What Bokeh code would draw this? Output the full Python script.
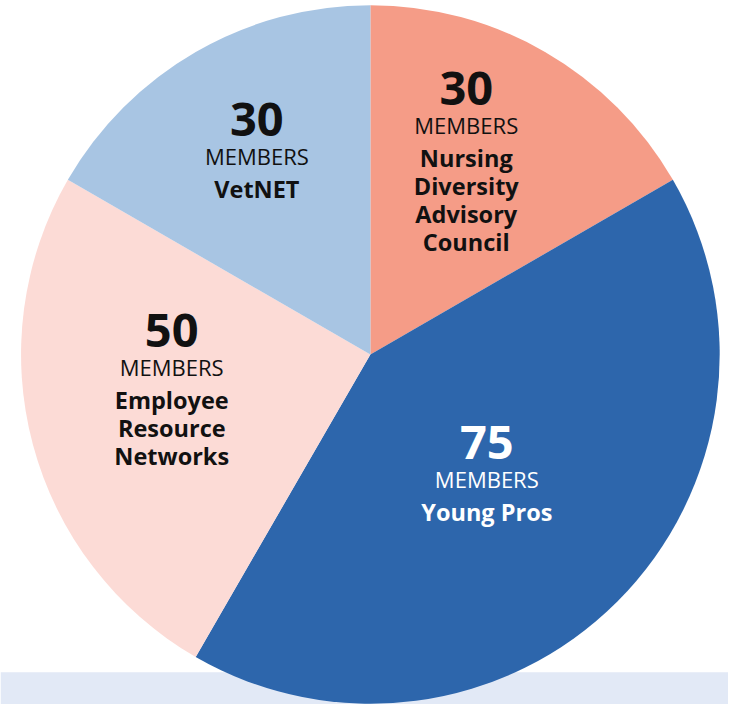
from bokeh.plotting import figure
from bokeh.models import Range1d, BoxAnnotation, ColumnDataSource
from bokeh.core.properties import value
from bokeh.embed import file_html
from bokeh.resources import INLINE
import numpy as np

# ---- data ----
categories = ["Nursing Diversity Advisory Council", "Young Pros",
              "Employee Resource Networks", "VetNET"]
members = [30, 75, 50, 30]
# slice sizes as drawn in the reference (degrees)
slice_deg = [60, 150, 90, 60]
name_lines = [["Nursing", "Diversity", "Advisory", "Council"],
              ["Young Pros"],
              ["Employee", "Resource", "Networks"],
              ["VetNET"]]
colors = ["#f59c87", "#2d66ac", "#fcdbd6", "#a8c5e3"]
text_colors = ["#111111", "#ffffff", "#111111", "#111111"]

# ---- layout (reference pixel units, y measured downward from the top) ----
REF_W, REF_H = 744, 720
W, H = 728, 704
S = W / REF_W
CX, CY, R = 378, 362, 357
label_off = [(98, -272), (119, 90), (-203, -24), (-116, -240)]
FONT = "Open Sans"


def ydata(py):
    return REF_H - py


def fs(px):
    return f"{px * S:.1f}px"


p = figure(width=W, height=H, x_range=Range1d(0, REF_W), y_range=Range1d(0, REF_H),
           output_backend="svg", toolbar_location=None, min_border=0,
           outline_line_color=None, background_fill_color="white")
p.axis.visible = False
p.grid.visible = False

band = BoxAnnotation(top=ydata(687), fill_color="#e2e9f6", fill_alpha=1.0,
                     line_color=None, level="underlay")
p.add_layout(band)

cum = np.cumsum([0] + slice_deg)
end_angles = [float(np.radians(90 - c)) for c in cum[:-1]]
start_angles = [float(np.radians(90 - c)) for c in cum[1:]]
src = ColumnDataSource(dict(cat=categories, start=start_angles, end=end_angles, color=colors))
p.wedge(x=CX, y=ydata(CY), radius=R, start_angle="start", end_angle="end",
        direction="anticlock", fill_color="color",
        line_color=None, source=src)

num = dict(x=[], y=[], t=[], c=[])
mem = dict(x=[], y=[], t=[], c=[])
nam = dict(x=[], y=[], t=[], c=[])
for i, cat in enumerate(categories):
    lx = CX + label_off[i][0]
    ly = CY + label_off[i][1]
    num["x"].append(lx); num["y"].append(ydata(ly))
    num["t"].append(str(members[i])); num["c"].append(text_colors[i])
    mem["x"].append(lx); mem["y"].append(ydata(ly + 37))
    mem["t"].append("MEMBERS"); mem["c"].append(text_colors[i])
    for k, line in enumerate(name_lines[i]):
        nam["x"].append(lx); nam["y"].append(ydata(ly + 71 + 28.5 * k))
        nam["t"].append(line); nam["c"].append(text_colors[i])

p.text(x="x", y="y", text="t", text_color="c", source=ColumnDataSource(num),
       text_font=value(FONT), text_font_style="bold", text_font_size=fs(48),
       text_align="center", text_baseline="middle")
p.text(x="x", y="y", text="t", text_color="c", source=ColumnDataSource(mem),
       text_font=value(FONT), text_font_style="normal", text_font_size=fs(22.5),
       text_align="center", text_baseline="middle")
p.text(x="x", y="y", text="t", text_color="c", source=ColumnDataSource(nam),
       text_font=value(FONT), text_font_style="bold", text_font_size=fs(24),
       text_align="center", text_baseline="middle")

open("out.html", "w").write(file_html(p, INLINE))
